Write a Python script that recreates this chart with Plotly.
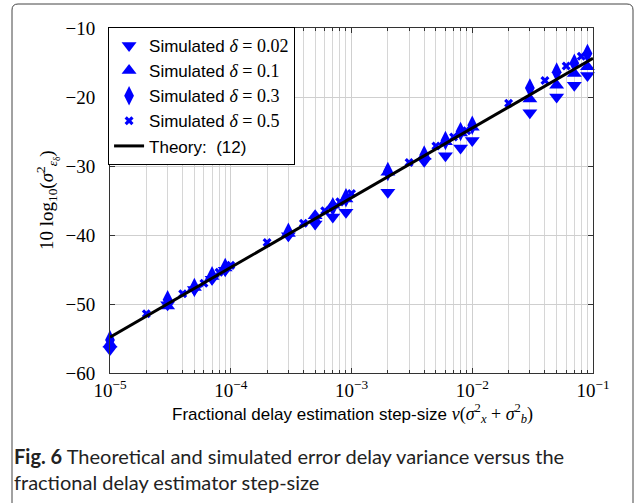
import plotly.graph_objects as go

# ---- data ----
tri_x = [1e-5, 3e-5, 5e-5, 7e-5, 9e-5, 3e-4, 5e-4, 7e-4, 9e-4, 2e-3, 4e-3, 6e-3,
         8e-3, 1e-2, 3e-2, 5e-2, 7e-2, 9e-2]
sim_002 = [-56.6, -50.1, -47.9, -46.4, -45.1, -40.1, -38.4, -37.4, -36.7, -33.8, -29.3,
           -28.5, -27.4, -26.3, -22.3, -20.0, -18.3, -16.9]
sim_01 = [-55.8, -50.3, -47.6, -46.0, -44.8, -39.8, -37.2, -35.7, -34.8, -30.9, -28.6,
          -26.5, -25.2, -24.4, -20.3, -18.3, -16.6, -15.6]
sim_03 = [-55.2, -49.4, -47.6, -45.9, -44.7, -39.6, -37.9, -35.9, -34.6, -30.8, -28.4,
          -26.3, -25.0, -24.1, -18.7, -16.4, -15.1, -13.7]
x05 = [1e-5, 2e-5, 4e-5, 6e-5, 8e-5, 1e-4, 2e-4, 4e-4, 6e-4, 8e-4, 1e-3, 3e-3, 5e-3,
       7e-3, 9e-3, 2e-2, 4e-2, 6e-2, 8e-2, 1e-1]
sim_05 = [-56.3, -51.4, -48.5, -47.0, -45.4, -44.4, -41.1, -38.3, -36.5, -35.2, -34.0,
          -29.5, -27.1, -25.8, -24.9, -20.9, -17.6, -15.5, -14.1, -13.2]
theory_x = [1e-5, 1e-1]
theory_y = [-54.8, -14.4]
y_ticks = [-60, -50, -40, -30, -20, -10]
y_ticklabels = ["−60", "−50", "−40", "−30", "−20", "−10"]
x_ticks = [1e-5, 1e-4, 1e-3, 1e-2, 1e-1]
x_ticklabels = ["10<sup>−5</sup>", "10<sup>−4</sup>", "10<sup>−3</sup>", "10<sup>−2</sup>", "10<sup>−1</sup>"]

SERIF = "Liberation Serif"
SANS = "Liberation Sans"
BLUE = "rgb(0,0,255)"


def lab(delta):
    return ("Simulated <span style=\"font-family:'%s';font-size:18px\"><i>δ</i> = %s</span>"
            % (SERIF, delta))


fig = go.Figure()
fig.add_trace(go.Scatter(x=tri_x, y=sim_002, mode="markers", name=lab("0.02"), cliponaxis=False,
                         marker=dict(symbol="triangle-down", size=13, color=BLUE)))
fig.add_trace(go.Scatter(x=tri_x, y=sim_01, mode="markers", name=lab("0.1"), cliponaxis=False,
                         marker=dict(symbol="triangle-up", size=13, color=BLUE)))
fig.add_trace(go.Scatter(x=tri_x, y=sim_03, mode="markers", name=lab("0.3"), cliponaxis=False,
                         marker=dict(symbol="diamond-tall", size=14, color=BLUE)))
fig.add_trace(go.Scatter(x=x05, y=sim_05, mode="markers", name=lab("0.5"), cliponaxis=False,
                         marker=dict(symbol="x", size=8, color=BLUE)))
fig.add_trace(go.Scatter(x=theory_x, y=theory_y, mode="lines", name="Theory:  (12)",
                         line=dict(color="black", width=3)))

W, H = 635, 503
ml, mr, mt, mb = 110, 42, 28, 130
pw, ph = W - ml - mr, H - mt - mb


def px(x):
    return (x - ml) / pw


def py(y):
    return 1 - (y - mt) / ph


# rounded figure border
x0, y0, x1, y1, r = px(12), py(4), px(633), py(520), 6
rx, ry = r / pw, r / ph
path = (f"M {x0},{y1} L {x0},{y0 - ry} Q {x0},{y0} {x0 + rx},{y0} "
        f"L {x1 - rx},{y0} Q {x1},{y0} {x1},{y0 - ry} L {x1},{y1}")

xtitle = ("Fractional delay estimation step-size <span style=\"font-family:'%s';font-size:18px\">"
          "<i>ν</i>(<i>σ</i><sup>2</sup><sub><i>x</i></sub> + <i>σ</i><sup>2</sup><sub><i>b</i></sub>)</span>"
          % SERIF)
ytitle = "10 log<sub>10</sub>(<i>σ</i><sup>2</sup><sub><i>ε</i><sub>δ</sub></sub>)"

fig.update_layout(
    width=W, height=H,
    margin=dict(l=ml, r=mr, t=mt, b=mb, autoexpand=False),
    paper_bgcolor="white", plot_bgcolor="white",
    font=dict(family=SANS, size=17, color="black"),
    showlegend=True,
    legend=dict(x=-0.004, y=1.003, xanchor="left", yanchor="top", bgcolor="white",
                bordercolor="black", borderwidth=1, font=dict(family=SANS, size=17),
                itemwidth=30, tracegroupgap=0),
    shapes=[dict(type="path", path=path, xref="paper", yref="paper",
                 line=dict(color="#444", width=1))],
    annotations=[
        dict(text=xtitle, x=px(352), y=py(413), xref="paper", yref="paper",
             xanchor="center", yanchor="middle", showarrow=False,
             font=dict(family=SANS, size=17, color="black")),
        dict(text=ytitle, x=px(47), y=py(200), xref="paper", yref="paper", textangle=-90,
             xanchor="center", yanchor="middle", showarrow=False,
             font=dict(family=SERIF, size=19, color="black")),
        dict(text="<b>Fig. 6</b> Theoretical and simulated error delay variance versus the<br>"
                  "fractional delay estimator step-size",
             x=px(12), y=py(442), xref="paper", yref="paper", xanchor="left", yanchor="top",
             align="left", showarrow=False, font=dict(family="Lato", size=20, color="#222")),
    ],
)
fig.update_xaxes(
    type="log", range=[-5, -1], tickvals=x_ticks, ticktext=x_ticklabels,
    tickfont=dict(family=SERIF, size=19), automargin=False,
    showline=True, linecolor="#333", linewidth=1, mirror="allticks",
    ticks="inside", ticklen=5, tickcolor="#333",
    showgrid=True, gridcolor="#cfcfcf", gridwidth=1, zeroline=False,
    minor=dict(showgrid=True, gridcolor="#d6d6d6", gridwidth=1, dtick="D1",
               ticks="inside", ticklen=3, tickcolor="#333"),
)
fig.update_yaxes(
    range=[-60, -10], tickvals=y_ticks, ticktext=y_ticklabels,
    tickfont=dict(family=SERIF, size=19), automargin=False, ticklabelstandoff=10,
    showline=True, linecolor="#333", linewidth=1, mirror="allticks",
    ticks="inside", ticklen=5, tickcolor="#333",
    showgrid=True, gridcolor="#cfcfcf", gridwidth=1, zeroline=False,
)

fig.write_html("out.html", config={"displayModeBar": False},
               post_script="document.body.style.margin='0px';")
